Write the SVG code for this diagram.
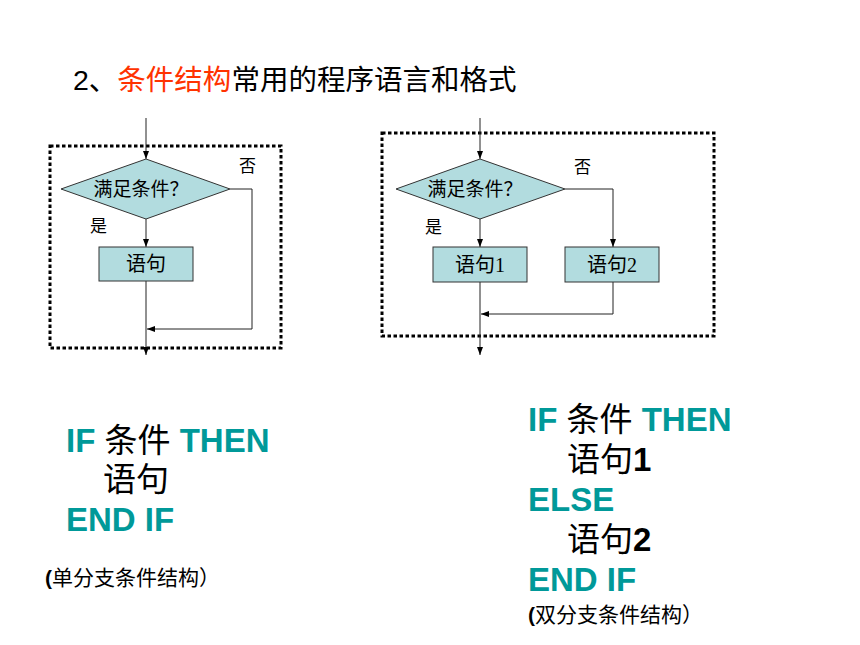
<svg xmlns="http://www.w3.org/2000/svg" width="860" height="645" viewBox="0 0 860 645">
<style>
.frame{fill:none;stroke:#000;stroke-width:3;stroke-dasharray:3.5 2.5}
.shape{fill:#b2dcdf;stroke:#333;stroke-width:1}
.conn{fill:none;stroke:#222;stroke-width:1}
.lbl{font-family:"Liberation Serif","Noto Sans CJK SC",serif;font-size:18px;fill:#000}
.dia{font-size:19px}
.box{font-size:20px}
.yn{font-size:17px}
.code{font-family:"Liberation Sans","Noto Sans CJK SC",sans-serif;font-size:33px;font-weight:bold;fill:#009999}
.cjk{fill:#000;font-weight:normal}
.blk{fill:#000}
.cap{font-family:"Liberation Sans","Noto Sans CJK SC",sans-serif;font-size:21px;fill:#000}
</style>
<defs>
<marker id="arr" markerUnits="userSpaceOnUse" markerWidth="8" markerHeight="6" refX="8" refY="3" orient="auto">
<path d="M0,0 L8,3 L0,6 z" fill="#000"/>
</marker>
</defs>
<rect width="860" height="645" fill="#fff"/>
<text x="73" y="90" font-family="Liberation Sans,Noto Sans CJK SC,sans-serif" font-size="28.5" fill="#000">2、<tspan fill="#ff3300">条件结构</tspan>常用的程序语言和格式</text>

<g id="frame-left"><rect class="frame" x="50" y="146" width="231" height="202"/></g>
<g id="frame-right"><rect class="frame" x="382" y="133" width="332" height="203"/></g>

<g id="connectors">
<line class="conn" x1="146" y1="118" x2="146" y2="159" marker-end="url(#arr)"/>
<line class="conn" x1="146" y1="219" x2="146" y2="247" marker-end="url(#arr)"/>
<line class="conn" x1="146" y1="281" x2="146" y2="355" marker-end="url(#arr)"/>
<polyline class="conn" points="230,189 252,189 252,329 147,329" marker-end="url(#arr)"/>
<line class="conn" x1="480" y1="118" x2="480" y2="159" marker-end="url(#arr)"/>
<line class="conn" x1="480" y1="219" x2="480" y2="247" marker-end="url(#arr)"/>
<polyline class="conn" points="565,189 613,189 613,247" marker-end="url(#arr)"/>
<polyline class="conn" points="613,282 613,314 481,314" marker-end="url(#arr)"/>
<line class="conn" x1="480" y1="282" x2="480" y2="355" marker-end="url(#arr)"/>
</g>

<g id="cond-left">
<polygon class="shape" points="146,159 230,189 146,219 61,189"/>
<text class="lbl dia" x="141" y="196" text-anchor="middle">满足条件？</text>
</g>
<g id="stmt-left">
<rect class="shape" x="99" y="247" width="94" height="34"/>
<text class="lbl box" x="146" y="271" text-anchor="middle">语句</text>
</g>
<g id="labels-left">
<text class="lbl yn" x="239" y="172">否</text>
<text class="lbl yn" x="90" y="232">是</text>
</g>

<g id="cond-right">
<polygon class="shape" points="480,159 565,189 480,219 396,189"/>
<text class="lbl dia" x="475" y="196" text-anchor="middle">满足条件？</text>
</g>
<g id="stmt1-right">
<rect class="shape" x="433" y="247" width="94" height="35"/>
<text class="lbl box" x="480" y="272" text-anchor="middle">语句1</text>
</g>
<g id="stmt2-right">
<rect class="shape" x="565" y="247" width="94" height="35"/>
<text class="lbl box" x="612" y="272" text-anchor="middle">语句2</text>
</g>
<g id="labels-right">
<text class="lbl yn" x="574" y="173">否</text>
<text class="lbl yn" x="425" y="233">是</text>
</g>

<g id="code-left">
<text class="code" x="66" y="452">IF <tspan class="cjk">条件</tspan> THEN</text>
<text class="code" x="103" y="491"><tspan class="cjk">语句</tspan></text>
<text class="code" x="66" y="531">END IF</text>
<text class="cap" x="45" y="585"><tspan font-weight="bold">(</tspan>单分支条件结构）</text>
</g>

<g id="code-right">
<text class="code" x="528" y="431">IF <tspan class="cjk">条件</tspan> THEN</text>
<text class="code" x="567" y="471"><tspan class="cjk">语句</tspan><tspan class="blk">1</tspan></text>
<text class="code" x="528" y="511">ELSE</text>
<text class="code" x="567" y="551"><tspan class="cjk">语句</tspan><tspan class="blk">2</tspan></text>
<text class="code" x="528" y="591">END IF</text>
<text class="cap" x="528" y="622"><tspan font-weight="bold">(</tspan>双分支条件结构）</text>
</g>
</svg>
